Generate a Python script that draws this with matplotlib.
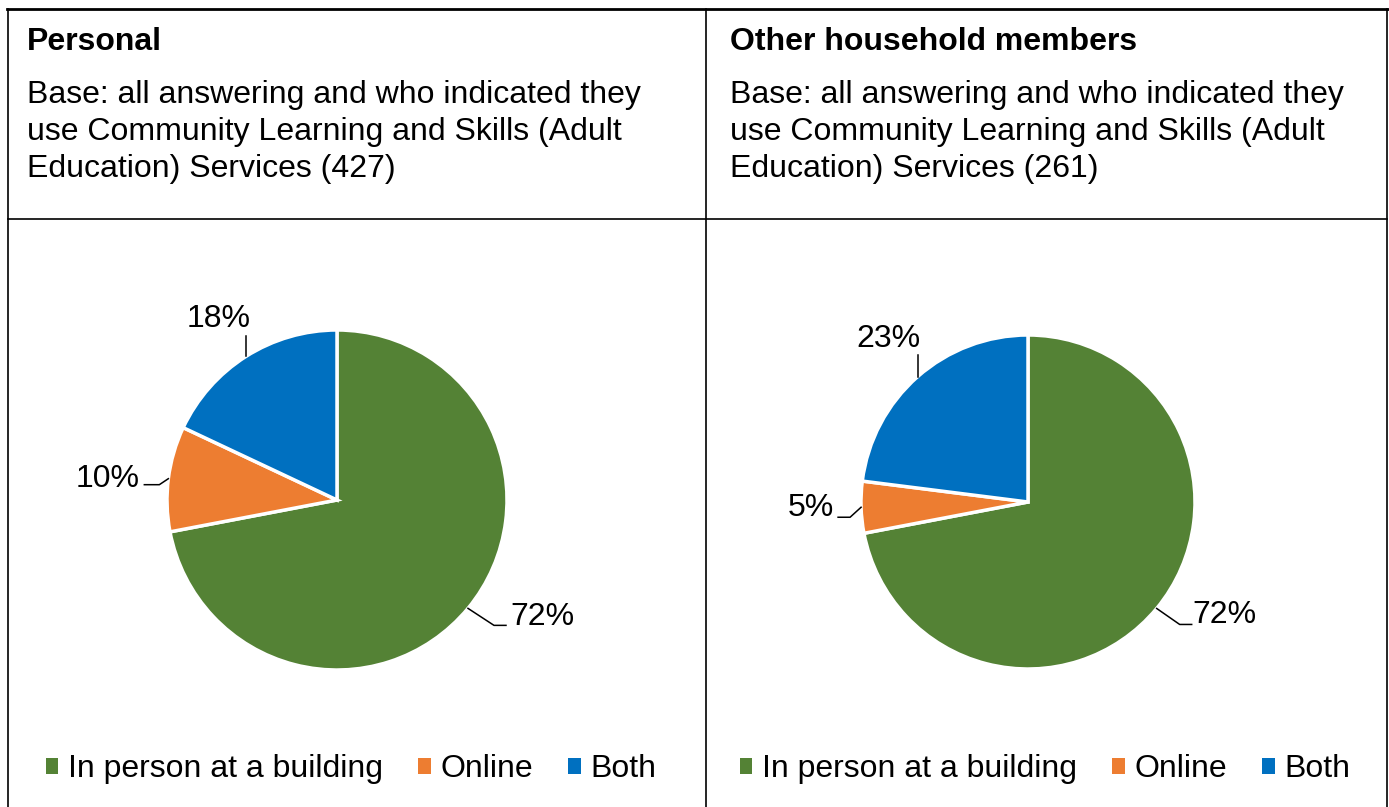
import numpy as np
import matplotlib
matplotlib.use("Agg")
import matplotlib.pyplot as plt
from matplotlib.patches import Patch

plt.rcParams['font.family'] = ['Liberation Sans', 'DejaVu Sans']

# data
categories = ["In person at a building", "Online", "Both"]
personal = [72, 10, 18]
household = [72, 5, 23]
colors = ["#548235", "#ED7D31", "#0070C0"]

titles = ["Personal", "Other household members"]
bases = [
    ["Base: all answering and who indicated they",
     "use Community Learning and Skills (Adult",
     "Education) Services (427)"],
    ["Base: all answering and who indicated they",
     "use Community Learning and Skills (Adult",
     "Education) Services (261)"],
]

W, H = 1389, 807
fig = plt.figure(figsize=(W / 100, H / 100), dpi=100)

# background axes in pixel coordinates for the table grid and header text
bg = fig.add_axes([0, 0, 1, 1])
bg.set_xlim(0, W)
bg.set_ylim(H, 0)
bg.axis("off")

lw = 1.2
bg.plot([7, 1388], [9, 9], color="black", lw=2.0)
bg.plot([8, 8], [9, H], color="black", lw=lw)
bg.plot([706, 706], [9, H], color="black", lw=lw)
bg.plot([1387, 1387], [9, H], color="black", lw=lw)
bg.plot([8, 1387], [219, 219], color="black", lw=lw)

fs = 23
for x0, title, base in zip([27, 730], titles, bases):
    bg.text(x0, 50, title, fontsize=fs, fontweight="bold", va="baseline")
    for k, line in enumerate(base):
        bg.text(x0, [103, 140, 177][k], line, fontsize=fs, va="baseline")


def draw_pie(cx, cy, r, values, label_style):
    L = 1.6
    size = 2 * L * r
    ax = fig.add_axes([(cx - size / 2) / W, 1 - (cy + size / 2) / H, size / W, size / H])
    wedges, _ = ax.pie(values, colors=colors, startangle=90, counterclock=False,
                       radius=1, wedgeprops=dict(edgecolor="white", linewidth=2.5))
    ax.set_xlim(-L, L)
    ax.set_ylim(-L, L)
    ax.set_aspect("equal")
    ax.axis("off")

    # labels with leader lines (offsets in pixels from edge point)
    start = 90
    for v, (path, tpos, ha) in zip(values, label_style):
        span = v / sum(values) * 360
        mid = np.deg2rad(start - span / 2)
        start -= span
        ex, ey = np.cos(mid), np.sin(mid)
        xs = [ex] + [ex + p[0] / r for p in path]
        ys = [ey] + [ey + p[1] / r for p in path]
        ax.plot(xs, ys, color="black", lw=1.1, clip_on=False)
        ax.text(ex + tpos[0] / r, ey + tpos[1] / r, "%d%%" % v, fontsize=fs,
                ha=ha, va="center", clip_on=False)
    return ax


left_style = [
    ([(26, -17), (38, -17)], (42, -9), "left"),
    ([(-9, -6), (-24, -6)], (-29, 0), "right"),
    ([(0, 20)], (-27, 37), "center"),
]
right_style = [
    ([(23, -16), (35, -16)], (36, -7), "left"),
    ([(-11, -10), (-23, -10)], (-27, -1), "right"),
    ([(0, 22)], (-29, 38), "center"),
]

ax1 = draw_pie(337, 500, 170, personal, left_style)
ax2 = draw_pie(1028, 502, 167, household, right_style)

handles = [Patch(facecolor=c, edgecolor="none") for c in colors]
for cx in [351, 1045]:
    fig.legend(handles, categories, ncol=3, loc="center",
               bbox_to_anchor=(cx / W, 1 - 769 / H), frameon=False,
               fontsize=fs, handlelength=0.4, handleheight=0.4,
               handletextpad=0.3, columnspacing=1.1, borderpad=0)

fig.savefig("out.png", dpi=100)
